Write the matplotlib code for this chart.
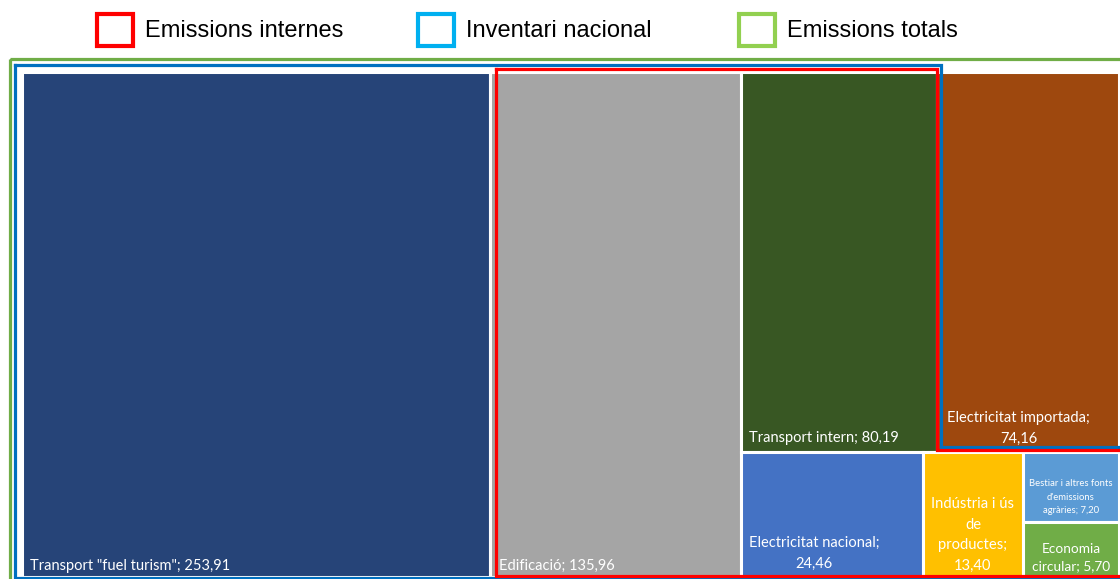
import matplotlib.pyplot as plt
import matplotlib.patches as patches

# data
labels = ['Transport "fuel turism"; 253,91', 'Edificació; 135,96', 'Transport intern; 80,19',
          'Electricitat importada;\n74,16', 'Electricitat nacional;\n24,46',
          'Indústria i ús\nde\nproductes;\n13,40', "Bestiar i altres fonts\nd'emissions\nagràries; 7,20",
          'Economia\ncircular; 5,70']
values = [253.91, 135.96, 80.19, 74.16, 24.46, 13.40, 7.20, 5.70]
colors = ['#264478', '#A5A5A5', '#385723', '#9E480E', '#4472C4', '#FFC000', '#5B9BD5', '#70AD47']
# nesting of the treemap (h = side by side, v = stacked)
tree = ('h', [0, 1, ('v', [('h', [2, 3]), ('h', [4, 5, ('v', [6, 7])])])])

legend_names = ['Emissions internes', 'Inventari nacional', 'Emissions totals']
legend_colors = ['#FF0000', '#00B0F0', '#92D050']

# label style per tile: (ha, multialign, fontsize, linespacing, x pad, bottom pad)
label_style = [('left', 'left', 10.5, 1.3, 8, 4), ('left', 'left', 10.5, 1.3, 9, 4),
               ('left', 'left', 10.5, 1.3, 8, 7), ('left', 'center', 10.5, 1.65, 10, 6),
               ('left', 'center', 10.5, 1.65, 8, 6), ('center', 'center', 10.6, 1.6, 0, 4),
               ('center', 'center', 6.8, 1.6, 0, 7), ('center', 'center', 9.8, 1.5, 0, 5)]


def total(node):
    if isinstance(node, int):
        return values[node]
    return sum(total(n) for n in node[1])


def layout(node, x, y, w, h, out):
    if isinstance(node, int):
        out[node] = (x, y, w, h)
        return
    orient, kids = node
    s = total(node)
    pos = 0.0
    for k in kids:
        f = total(k) / s
        if orient == 'h':
            layout(k, x + pos * w, y, w * f, h, out)
        else:
            layout(k, x, y + pos * h, w, h * f, out)
        pos += f


fig = plt.figure(figsize=(11.2, 5.79), dpi=100)
ax = fig.add_axes([0, 0, 1, 1])
ax.set_xlim(0, 1120)
ax.set_ylim(579, 0)
ax.axis('off')

X0, Y0, X1, Y1 = 22, 72, 1119, 577
rects = {}
layout(tree, X0, Y0, X1 - X0, Y1 - Y0, rects)

for i in range(len(values)):
    x, y, w, h = rects[i]
    ax.add_patch(patches.Rectangle((x, y), w, h, facecolor=colors[i], edgecolor='white', lw=2.2))
    ha, ma, fs, ls, pad, bpad = label_style[i]
    tx = x + pad if ha == 'left' else x + w / 2
    ax.text(tx, y + h - bpad, labels[i], ha=ha, va='bottom', multialignment=ma, color='white',
            fontsize=fs, family='Lato', linespacing=ls)

# group outlines
ed, ti, ei, en = rects[1], rects[2], rects[3], rects[4]
lw = 2.3
# Emissions totals: everything
ax.add_patch(patches.Rectangle((10, 59), 1115, 525, fill=False, edgecolor='#70AD47', lw=lw))
# Inventari nacional: all except imported electricity
row_b = ei[1] + ei[3]
ti_r = ti[0] + ti[2]
blue = [(15, 65), (ti_r + 3.5, 65), (ti_r + 3.5, row_b - 5), (1125, row_b - 5), (1125, 578),
        (15, 578), (15, 65)]
ax.plot(*zip(*blue), color='#0070C0', lw=lw, solid_joinstyle='miter')
# Emissions internes
left_r = ed[0] + 5.5
red = [(left_r, 69), (ti_r - 0.5, 69), (ti_r - 0.5, row_b - 2), (1125, row_b - 2), (1125, 576),
       (left_r, 576), (left_r, 69)]
ax.plot(*zip(*red), color='#FF0000', lw=lw, solid_joinstyle='miter')

# legend
leg_x = [97, 418, 739]
for lx, name, c in zip(leg_x, legend_names, legend_colors):
    ax.add_patch(patches.Rectangle((lx, 14), 36, 32, fill=False, edgecolor=c, lw=3))
    ax.text(lx + 48, 31, name, ha='left', va='center', fontsize=17, family='Liberation Sans')

fig.savefig('out.png', dpi=100)
